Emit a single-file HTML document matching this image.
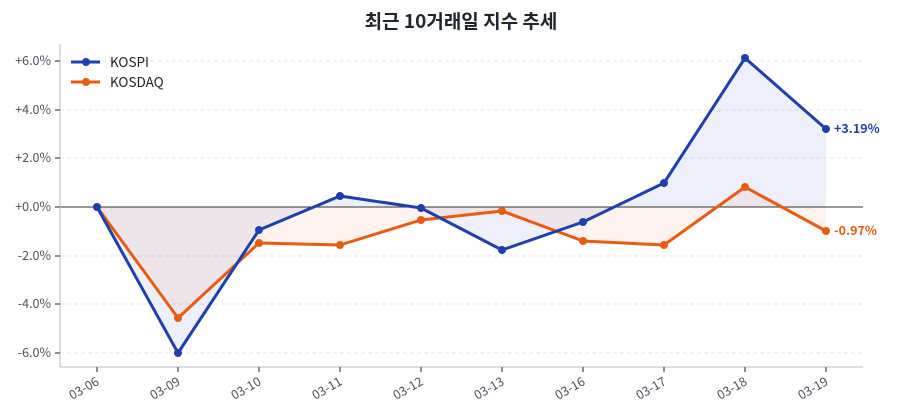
<!DOCTYPE html>
<html><head><meta charset="utf-8"><style>
html,body{margin:0;padding:0;background:#fff;}
svg{display:block;font-family:"Noto Sans CJK KR","Liberation Sans",sans-serif;}
</style></head><body>
<svg width="900" height="420" viewBox="0 0 900 420">
<text x="461" y="28" text-anchor="middle" font-size="19" font-weight="bold" fill="#1f2430">최근 10거래일 지수 추세</text>
<g stroke="#e3e5ea" stroke-dasharray="4,3" stroke-width="1">
<line x1="60" x2="863" y1="61" y2="61"/><line x1="60" x2="863" y1="110" y2="110"/><line x1="60" x2="863" y1="158" y2="158"/><line x1="60" x2="863" y1="256" y2="256"/><line x1="60" x2="863" y1="304" y2="304"/><line x1="60" x2="863" y1="353" y2="353"/>
</g>
<polygon points="97,207 178,353 259,230 340,196 421,208 502,250 583,222 664,183 745,58 826,129 826,207" fill="#3b5bc8" fill-opacity="0.09"/>
<polygon points="97,207 178,318 259,243 340,245 421,220 502,211 583,241 664,245 745,187 826,231 826,207" fill="#f06020" fill-opacity="0.08"/>
<line x1="60" x2="863" y1="207" y2="207" stroke="#333" stroke-width="1"/>
<g stroke="#d0d3dc" stroke-width="1.5"><line x1="60" y1="44" x2="60" y2="367"/><line x1="60" y1="367" x2="863" y2="367"/></g>
<g stroke="#555" stroke-width="1.3">
<line x1="55" x2="60" y1="61" y2="61"/><line x1="55" x2="60" y1="110" y2="110"/><line x1="55" x2="60" y1="158" y2="158"/><line x1="55" x2="60" y1="207" y2="207"/><line x1="55" x2="60" y1="256" y2="256"/><line x1="55" x2="60" y1="304" y2="304"/><line x1="55" x2="60" y1="353" y2="353"/>
<line x1="97" x2="97" y1="367" y2="372"/><line x1="178" x2="178" y1="367" y2="372"/><line x1="259" x2="259" y1="367" y2="372"/><line x1="340" x2="340" y1="367" y2="372"/><line x1="421" x2="421" y1="367" y2="372"/><line x1="502" x2="502" y1="367" y2="372"/><line x1="583" x2="583" y1="367" y2="372"/><line x1="664" x2="664" y1="367" y2="372"/><line x1="745" x2="745" y1="367" y2="372"/><line x1="826" x2="826" y1="367" y2="372"/>
</g>
<g font-size="12.5" fill="#4a5060" text-anchor="end">
<text x="51" y="65">+6.0%</text><text x="51" y="114">+4.0%</text><text x="51" y="162">+2.0%</text><text x="51" y="211">+0.0%</text><text x="51" y="260">-2.0%</text><text x="51" y="308">-4.0%</text><text x="51" y="357">-6.0%</text>
</g>
<g font-size="12.5" fill="#4a5060" text-anchor="end">
<text transform="translate(100,384) rotate(-30)">03-06</text>
<text transform="translate(181,384) rotate(-30)">03-09</text>
<text transform="translate(262,384) rotate(-30)">03-10</text>
<text transform="translate(343,384) rotate(-30)">03-11</text>
<text transform="translate(424,384) rotate(-30)">03-12</text>
<text transform="translate(505,384) rotate(-30)">03-13</text>
<text transform="translate(586,384) rotate(-30)">03-16</text>
<text transform="translate(667,384) rotate(-30)">03-17</text>
<text transform="translate(748,384) rotate(-30)">03-18</text>
<text transform="translate(829,384) rotate(-30)">03-19</text>
</g>
<polyline points="97,207 178,318 259,243 340,245 421,220 502,211 583,241 664,245 745,187 826,231" fill="none" stroke="#ea5b12" stroke-width="3" stroke-linejoin="round"/>
<g fill="#ea5b12"><circle cx="97" cy="207" r="4"/><circle cx="178" cy="318" r="4"/><circle cx="259" cy="243" r="4"/><circle cx="340" cy="245" r="4"/><circle cx="421" cy="220" r="4"/><circle cx="502" cy="211" r="4"/><circle cx="583" cy="241" r="4"/><circle cx="664" cy="245" r="4"/><circle cx="745" cy="187" r="4"/><circle cx="826" cy="231" r="4"/></g>
<polyline points="97,207 178,353 259,230 340,196 421,208 502,250 583,222 664,183 745,58 826,129" fill="none" stroke="#1f3fae" stroke-width="3" stroke-linejoin="round"/>
<g fill="#1f3fae"><circle cx="97" cy="207" r="4"/><circle cx="178" cy="353" r="4"/><circle cx="259" cy="230" r="4"/><circle cx="340" cy="196" r="4"/><circle cx="421" cy="208" r="4"/><circle cx="502" cy="250" r="4"/><circle cx="583" cy="222" r="4"/><circle cx="664" cy="183" r="4"/><circle cx="745" cy="58" r="4"/><circle cx="826" cy="129" r="4"/></g>
<text x="834" y="133" font-size="12.5" font-weight="bold" fill="#1f3fae">+3.19%</text>
<text x="834" y="235" font-size="12.5" font-weight="bold" fill="#ea5b12">-0.97%</text>
<line x1="71" x2="100" y1="62" y2="62" stroke="#1f3fae" stroke-width="3"/><circle cx="86" cy="62" r="4" fill="#1f3fae"/>
<text x="110" y="67" font-size="13.5" fill="#222">KOSPI</text>
<line x1="71" x2="100" y1="82" y2="82" stroke="#ea5b12" stroke-width="3"/><circle cx="86" cy="82" r="4" fill="#ea5b12"/>
<text x="110" y="87" font-size="13.5" fill="#222">KOSDAQ</text>
</svg>
</body></html>
